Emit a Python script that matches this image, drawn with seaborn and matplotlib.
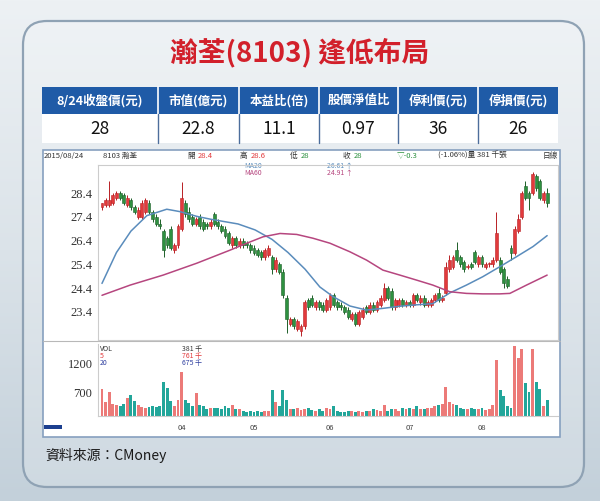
import matplotlib
matplotlib.use("Agg")
import matplotlib.pyplot as plt
from matplotlib.patches import FancyBboxPatch, Rectangle
from matplotlib.colors import LinearSegmentedColormap
import numpy as np
import pandas as pd
import seaborn as sns

sns.set_theme(style="white")
plt.rcParams['font.family'] = ['Noto Sans CJK TC', 'DejaVu Sans']

W, H = 600, 501

# 標題與表格
title = "瀚荃(8103) 逢低布局"
head_cols = ["8/24收盤價(元)", "市值(億元)", "本益比(倍)", "股價淨值比", "停利價(元)", "停損價(元)"]
head_vals = ["28", "22.8", "11.1", "0.97", "36", "26"]
source = "資料來源：CMoney"

# 日K資料 (2015/03 ~ 2015/08/24)
opens = [27.8, 27.9, 27.9, 28.0, 28.2, 28.4, 28.3, 27.9, 28.1, 27.8, 27.4, 27.4, 27.6, 28.0, 27.6, 27.4,
         27.1, 26.8, 26.5, 26.9, 26.0, 26.2, 26.9, 28.0, 27.6, 27.4, 27.1, 27.4, 27.2, 27.1, 27.0, 27.5,
         27.2, 27.0, 26.9, 26.7, 26.2, 26.5, 26.2, 26.4, 26.3, 26.2, 26.1, 26.0, 25.9, 25.7, 25.8, 25.7,
         25.2, 25.4, 25.1, 24.0, 22.9, 23.1, 22.7, 22.6, 22.8, 23.9, 24.0, 23.6, 23.8, 23.7, 23.5, 23.6,
         24.1, 23.8, 23.7, 23.6, 23.5, 23.1, 23.3, 22.9, 23.2, 23.6, 23.4, 23.7, 23.5, 23.7, 23.9, 24.4,
         24.3, 23.6, 23.7, 23.9, 23.7, 23.8, 23.7, 24.1, 23.8, 24.0, 23.7, 23.7, 23.9, 24.2, 23.9, 24.2,
         25.2, 25.3, 26.0, 25.7, 25.5, 25.3, 25.4, 25.9, 25.4, 25.7, 25.3, 25.4, 25.4, 25.6, 25.6, 25.2,
         24.8, 26.1, 25.9, 26.8, 27.4, 28.7, 28.4, 28.4, 29.1, 28.9, 28.1, 28.4]
highs = [28.0, 28.2, 28.9, 28.4, 28.5, 28.5, 28.4, 28.3, 28.2, 27.9, 27.8, 28.1, 28.2, 28.1, 27.7, 27.5,
         27.3, 26.9, 26.6, 27.0, 26.3, 27.1, 28.85, 28.1, 27.8, 27.5, 27.4, 27.5, 27.3, 27.2, 27.3, 27.6,
         27.3, 27.1, 27.0, 26.8, 26.6, 26.6, 26.5, 26.5, 26.4, 26.3, 26.2, 26.1, 26.0, 26.1, 26.2, 25.8,
         25.7, 25.5, 25.2, 24.1, 23.2, 23.2, 23.1, 22.9, 23.9, 24.0, 24.1, 23.9, 23.9, 23.8, 24.0, 24.2,
         24.2, 23.9, 23.8, 23.7, 23.6, 23.4, 23.4, 23.5, 23.6, 23.7, 23.8, 23.8, 23.9, 24.1, 24.6, 24.5,
         24.4, 24.0, 24.0, 24.0, 23.9, 23.9, 24.2, 24.2, 24.1, 24.1, 23.9, 24.0, 24.2, 24.4, 24.1, 25.5,
         25.8, 25.8, 26.35, 25.8, 25.6, 25.4, 25.5, 26.0, 25.8, 25.8, 25.5, 25.5, 25.7, 27.6, 25.7, 25.3,
         24.9, 26.2, 27.0, 27.5, 28.5, 28.9, 28.5, 29.3, 29.2, 29.0, 28.5, 28.6]
lows = [27.7, 27.8, 27.8, 27.9, 28.1, 28.1, 27.9, 27.8, 27.7, 27.5, 27.3, 27.3, 27.5, 27.5, 27.2, 27.0,
        26.9, 25.7, 26.1, 26.0, 25.9, 26.1, 26.8, 27.4, 27.2, 27.0, 27.0, 26.9, 26.8, 26.9, 26.9, 27.0,
        26.9, 26.7, 26.5, 26.2, 26.1, 26.1, 26.1, 26.1, 26.1, 25.9, 25.8, 25.7, 25.6, 25.6, 25.7, 25.0,
        25.1, 25.0, 24.0, 22.5, 22.8, 22.7, 22.6, 22.4, 22.7, 23.5, 23.6, 23.5, 23.5, 23.4, 23.4, 23.5,
        23.6, 23.5, 23.5, 23.3, 23.1, 23.0, 22.8, 22.8, 23.1, 23.3, 23.3, 23.4, 23.4, 23.6, 23.8, 23.9,
        23.5, 23.5, 23.6, 23.6, 23.6, 23.6, 23.6, 23.8, 23.7, 23.6, 23.6, 23.6, 23.8, 23.8, 23.8, 24.1,
        25.1, 25.2, 25.5, 25.3, 25.1, 25.2, 25.2, 25.4, 25.3, 25.3, 25.2, 25.3, 25.3, 25.5, 25.0, 24.4,
        24.4, 25.6, 25.8, 26.7, 27.3, 28.1, 27.7, 28.3, 28.5, 28.1, 28.0, 27.8]
closes = [28.0, 28.1, 28.1, 28.3, 28.4, 28.2, 28.0, 28.2, 27.8, 27.6, 27.7, 28.0, 28.1, 27.6, 27.3, 27.1,
          27.0, 26.0, 26.2, 26.1, 26.2, 27.0, 28.2, 27.5, 27.3, 27.1, 27.3, 27.0, 26.9, 27.0, 27.2, 27.1,
          27.0, 26.8, 26.6, 26.3, 26.5, 26.2, 26.4, 26.2, 26.2, 26.0, 25.9, 25.8, 25.7, 26.0, 26.1, 25.2,
          25.6, 25.1, 24.1, 23.1, 23.1, 22.8, 23.0, 22.8, 23.8, 23.6, 23.7, 23.8, 23.6, 23.5, 23.9, 24.1,
          23.7, 23.6, 23.6, 23.4, 23.2, 23.3, 22.9, 23.4, 23.5, 23.4, 23.7, 23.5, 23.8, 24.0, 24.4, 24.0,
          23.6, 23.9, 23.9, 23.7, 23.8, 23.7, 24.1, 23.9, 24.0, 23.7, 23.8, 23.9, 24.1, 23.9, 24.0, 25.3,
          25.6, 25.7, 25.6, 25.4, 25.2, 25.3, 25.3, 25.5, 25.7, 25.4, 25.4, 25.4, 25.6, 26.7, 25.1, 24.6,
          24.5, 25.9, 26.9, 27.3, 28.4, 28.2, 28.2, 29.2, 28.6, 28.2, 28.4, 28.0]
volumes = [760, 550, 717, 505, 490, 470, 520, 610, 660, 560, 500, 460, 440, 455, 470, 460,
           470, 885, 775, 560, 480, 577, 1053, 577, 527, 480, 695, 500, 470, 430, 440, 450,
           440, 430, 470, 450, 490, 430, 420, 390, 380, 385, 380, 390, 380, 395, 390, 745,
           540, 480, 745, 577, 430, 430, 440, 410, 420, 440, 410, 400, 430, 400, 440, 420,
           470, 400, 380, 370, 390, 400, 380, 390, 370, 390, 400, 420, 410, 390, 495, 400,
           420, 430, 400, 440, 430, 450, 420, 470, 420, 430, 450, 440, 470, 500, 520, 800,
           550, 520, 500, 440, 430, 420, 440, 430, 420, 440, 410, 430, 500, 1250, 745, 640,
           480, 450, 1500, 1285, 1450, 860, 720, 1450, 885, 760, 480, 577]

# 均線讀值 (交易日序, 價格)
ma20_day = [0, 4, 8, 12.4, 17.9, 21.5, 26.2, 30, 37.6, 42.3, 47, 51.4, 56.1, 60.2, 63.8, 68.5,
            73.1, 77.6, 82.3, 86.9, 91.4, 96.1, 100.7, 105.2, 109.9, 114.5, 119.1, 123]
ma20_val = [24.6, 25.9, 26.8, 27.45, 27.72, 27.62, 27.42, 27.3, 27.1, 26.85, 26.45, 25.9, 25.2, 24.45, 24.05, 23.65,
            23.48, 23.55, 23.64, 23.7, 23.75, 24.2, 24.53, 24.88, 25.3, 25.72, 26.15, 26.61]
ma60_day = [0, 7.8, 16.9, 26.2, 35.4, 40, 44.5, 49.2, 53.8, 58.3, 63, 68.5, 73.1, 77.6, 82.3, 86.9,
            91.4, 96.1, 100.7, 105.2, 109.9, 112.7, 117.3, 123]
ma60_val = [24.1, 24.53, 24.95, 25.45, 26.0, 26.29, 26.56, 26.7, 26.66, 26.5, 26.29, 25.93, 25.58, 25.16, 24.95, 24.74,
            24.53, 24.25, 24.18, 24.16, 24.16, 24.18, 24.53, 24.95]

month_labels = ["04", "05", "06", "07", "08"]
month_start = [22, 42, 63, 85, 105]
price_ticks = [23.4, 24.4, 25.4, 26.4, 27.4, 28.4]
vol_ticks = [700, 1200]

RED, GREEN = '#e23a3c', '#2e9140'
RED_V, TEAL_V = '#ec7a78', '#22a69a'
BLUE_MA, PINK_MA = '#5a8cbc', '#b6467f'


def px(x0, y0, x1, y1):
    return [x0 / W, 1 - y1 / H, (x1 - x0) / W, (y1 - y0) / H]


fig = plt.figure(figsize=(6, 5.01), dpi=100)

# 背景
bg = fig.add_axes([0, 0, 1, 1])
bg.set_xlim(0, W)
bg.set_ylim(H, 0)
bg.axis('off')
cmap = LinearSegmentedColormap.from_list('bg', ['#edf1f4', '#dbe3e9', '#c3d0da'])
bg.imshow(np.linspace(0, 1, 256)[:, None], extent=[0, W, H, 0], cmap=cmap, aspect='auto', zorder=0)
panel = FancyBboxPatch((23, 21), 561, 466, boxstyle="round,pad=0,rounding_size=24",
                       fc='white', alpha=0.18, ec='none', zorder=1)
bg.add_patch(panel)
bg.add_patch(FancyBboxPatch((23, 21), 561, 466, boxstyle="round,pad=0,rounding_size=24",
                            fc='none', ec='#8fa2b4', lw=1.6, zorder=2))

bg.text(300, 53, title, color='#d2202b', fontsize=20, fontweight='bold', ha='center', va='center', zorder=3)

# 表格
edges = [42, 158, 239, 319, 398, 478, 558]
bg.add_patch(Rectangle((42, 87), 516, 27, fc='#1f5ba7', ec='none', zorder=3))
bg.add_patch(Rectangle((42, 114), 516, 29, fc='white', ec='none', zorder=3))
for i in range(6):
    cx = (edges[i] + edges[i + 1]) / 2
    bg.text(cx, 100.5, head_cols[i], color='white', fontsize=9, fontweight='bold',
            ha='center', va='center', zorder=4)
    bg.text(cx, 129, head_vals[i], color='#111111', fontsize=12.5, ha='center', va='center', zorder=4)
for e in edges[1:-1]:
    bg.plot([e, e], [87, 114], color='white', lw=1.2, zorder=4)
    bg.plot([e, e], [114, 143], color='#4d6e9c', lw=1.0, zorder=4)

# 線圖外框
bg.add_patch(Rectangle((43, 150), 517, 287, fc='white', ec='#86a0bf', lw=1.2, zorder=3))
bg.plot([43, 560], [341, 341], color='#b8b8b8', lw=0.8, zorder=4)
bg.add_patch(Rectangle((44, 425), 18, 4, fc='#1c3f8f', ec='none', zorder=4))

hdr = [(44, "2015/08/24", '#333333'), (103, "8103 瀚荃", '#333333'),
       (187, "開", '#333333'), (198, "28.4", RED), (240, "高", '#333333'), (251, "28.6", RED),
       (290, "低", '#333333'), (301, "28", GREEN), (343, "收", '#333333'), (354, "28", GREEN),
       (397, "▽-0.3", GREEN), (438, "(-1.06%)量 381 千張", '#333333'), (543, "日線", '#333333')]
for x, s, c in hdr:
    bg.text(x, 156, s, color=c, fontsize=5.5, ha='left', va='center', zorder=5)
bg.text(244, 166, "MA20", color=BLUE_MA, fontsize=5, va='center', zorder=5)
bg.text(244, 173, "MA60", color=PINK_MA, fontsize=5, va='center', zorder=5)
bg.text(327, 166, "26.61 ↑", color=BLUE_MA, fontsize=5, va='center', zorder=5)
bg.text(327, 173, "24.91 ↑", color=PINK_MA, fontsize=5, va='center', zorder=5)

bg.text(100, 349, "VOL", color='#333333', fontsize=5, va='center', zorder=5)
bg.text(100, 356, "5", color=RED, fontsize=5, va='center', zorder=5)
bg.text(100, 363, "20", color='#3040a0', fontsize=5, va='center', zorder=5)
bg.text(182, 349, "381 千", color='#333333', fontsize=5, va='center', zorder=5)
bg.text(182, 356, "761 千", color=RED, fontsize=5, va='center', zorder=5)
bg.text(182, 363, "675 千", color='#3040a0', fontsize=5, va='center', zorder=5)

bg.text(45, 455, source, color='#1a1a1a', fontsize=10, va='center', zorder=5)

# K線
df = pd.DataFrame({'o': opens, 'h': highs, 'l': lows, 'c': closes, 'v': volumes})
df['day'] = np.arange(len(df))
up = df['c'] >= df['o']
ccol = np.where(up, RED, GREEN)
ecol = np.where(up, '#b82024', '#1d5e28')

ax = fig.add_axes(px(98, 165, 558, 340))
ax.set_zorder(6)
ax.patch.set_alpha(0)
ax.vlines(df['day'], df['l'], df['h'], colors=ecol, lw=0.7, zorder=2)
body_lo = np.minimum(df['o'], df['c'])
body_h = np.maximum(np.abs(df['c'] - df['o']), 0.04)
ax.bar(df['day'], body_h, bottom=body_lo, width=0.8, color=ccol, edgecolor=ecol, linewidth=0.4, zorder=3)

ma = pd.concat([pd.DataFrame({'day': ma20_day, 'val': ma20_val, 'ma': 'MA20'}),
                pd.DataFrame({'day': ma60_day, 'val': ma60_val, 'ma': 'MA60'})])
sns.lineplot(data=ma, x='day', y='val', hue='ma', palette={'MA20': BLUE_MA, 'MA60': PINK_MA},
             lw=1.1, legend=False, ax=ax, zorder=4)

ax.set_xlim(-1.1, 126)
ax.set_ylim(22.22, 29.58)
ax.set_yticks(price_ticks)
ax.set_yticklabels([f"{t:.1f}" for t in price_ticks], family='Liberation Serif', fontsize=9, color='#333333')
ax.set_xticks(month_start)
ax.set_xticklabels([])
ax.tick_params(axis='y', length=0, pad=4)
ax.tick_params(axis='x', length=2, color='#999999', direction='in')
ax.set_xlabel('')
ax.set_ylabel('')
for s in ax.spines.values():
    s.set_color('#cccccc')
    s.set_linewidth(0.8)

# 成交量
axv = fig.add_axes(px(98, 344, 558, 416))
axv.set_zorder(6)
axv.patch.set_alpha(0)
vcol = np.where(up, RED_V, TEAL_V)
axv.bar(df['day'], df['v'], width=0.8, color=vcol, linewidth=0, zorder=2)
axv.set_xlim(-1.1, 126)
axv.set_ylim(308, 1530)
axv.set_yticks(vol_ticks)
axv.set_yticklabels([str(t) for t in vol_ticks], family='Liberation Serif', fontsize=9, color='#333333')
axv.set_xticks(month_start)
axv.set_xticklabels(month_labels, fontsize=5.5, color='#444444')
axv.tick_params(axis='y', length=0, pad=4)
axv.tick_params(axis='x', length=0, pad=6)
for k, s in axv.spines.items():
    s.set_color('#cccccc')
    s.set_linewidth(0.8)
axv.spines['top'].set_visible(False)
axv.spines['right'].set_visible(False)

fig.savefig('out.png', dpi=100)
